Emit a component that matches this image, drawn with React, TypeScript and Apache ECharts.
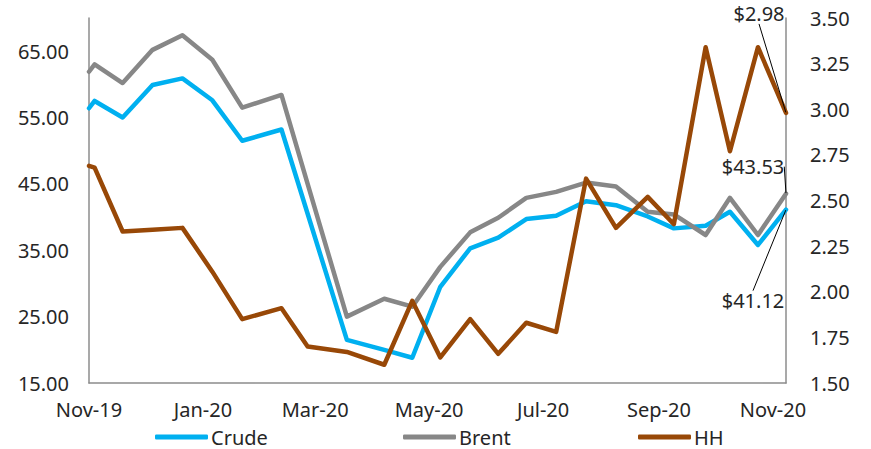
import React, { useEffect, useRef } from "react";
import * as echarts from "echarts";

const dates = [
  "2019-11-01", "2019-11-04", "2019-11-19", "2019-12-05", "2019-12-21",
  "2020-01-06", "2020-01-22", "2020-02-12", "2020-02-26", "2020-03-18",
  "2020-04-07", "2020-04-22", "2020-05-07", "2020-05-23", "2020-06-07",
  "2020-06-22", "2020-07-08", "2020-07-24", "2020-08-09", "2020-08-26",
  "2020-09-09", "2020-09-26", "2020-10-09", "2020-10-24", "2020-11-08",
];
const crude = [
  56.4, 57.5, 55.0, 59.9, 60.9, 57.6, 51.5, 53.2, 40.5, 21.5,
  20.0, 18.8, 29.5, 35.3, 36.9, 39.7, 40.2, 42.4, 41.8, 40.1,
  38.3, 38.7, 40.8, 35.8, 41.12,
];
const brent = [
  61.9, 63.0, 60.2, 65.2, 67.4, 63.7, 56.5, 58.4, 45.0, 25.0,
  27.7, 26.5, 32.5, 37.7, 39.9, 42.9, 43.8, 45.2, 44.6, 40.8,
  40.4, 37.3, 42.9, 37.3, 43.53,
];
const hh = [
  2.69, 2.68, 2.33, 2.34, 2.35, 2.11, 1.85, 1.91, 1.70, 1.67,
  1.60, 1.95, 1.64, 1.85, 1.66, 1.83, 1.78, 2.62, 2.35, 2.52,
  2.37, 3.34, 2.77, 3.34, 2.98,
];
const xTickDates = ["2019-11-01", "2020-01-01", "2020-03-01", "2020-05-01", "2020-07-01", "2020-09-01", "2020-11-01"];
const monthNames = ["Jan", "Feb", "Mar", "Apr", "May", "Jun", "Jul", "Aug", "Sep", "Oct", "Nov", "Dec"];

const ts = (s: string) => {
  const [y, m, d] = s.split("-").map(Number);
  return Date.UTC(y, m - 1, d);
};

const FONT = "Noto Sans";
const TEXT = "#262626";
const AXIS = "#8c8c8c";
const C_CRUDE = "#00b0f0";
const C_BRENT = "#878787";
const C_HH = "#984807";

function build(values: number[], fmt: (v: number) => string) {
  return values.map((v, i) => {
    const pt: any = { value: [ts(dates[i]), v] };
    if (i === values.length - 1) {
      pt.label = {
        show: true,
        position: "inside",
        formatter: fmt(v),
        fontFamily: FONT,
        fontSize: 20,
        color: TEXT,
      };
      pt.labelLine = { show: true, lineStyle: { color: "#000", width: 1 } };
    }
    return pt;
  });
}

export default function App() {
  const ref = useRef<HTMLDivElement>(null);
  useEffect(() => {
    if (!ref.current) return;
    const chart = echarts.init(ref.current, null, { renderer: "svg" });
    const lineCommon = {
      type: "line",
      symbol: "circle",
      symbolSize: 1,
      showSymbol: true,
      lineStyle: { width: 4.5, cap: "round", join: "round" },
      label: { show: false },
      emphasis: { disabled: true },
    };
    const legendCommon = {
      top: 426,
      padding: 0,
      icon: "roundRect",
      itemWidth: 53,
      itemHeight: 5,
      itemGap: 0,
      textStyle: { fontFamily: FONT, fontSize: 20, lineHeight: 22, color: TEXT, padding: [0, 0, 0, -2] },
    };
    chart.setOption({
      animation: false,
      backgroundColor: "#fff",
      grid: { left: 89, right: 85, top: 18, bottom: 66, containLabel: false, outerBoundsMode: "none" },
      legend: [
        { ...legendCommon, left: 155, data: ["Crude"] },
        { ...legendCommon, left: 403, data: ["Brent"] },
        { ...legendCommon, left: 638, data: ["HH"] },
      ],
      xAxis: {
        type: "value",
        min: ts(dates[0]),
        max: ts(dates[dates.length - 1]),
        splitLine: { show: false },
        axisTick: { show: false },
        axisLine: { show: true, lineStyle: { color: AXIS, width: 1.5 } },
        axisLabel: {
          customValues: xTickDates.map(ts),
          margin: 16,
          fontFamily: FONT,
          fontSize: 20,
          color: TEXT,
          formatter: (v: number) => {
            const d = new Date(v);
            return monthNames[d.getUTCMonth()] + "-" + String(d.getUTCFullYear()).slice(2);
          },
        },
      },
      yAxis: [
        {
          type: "value",
          min: 15,
          max: 70,
          interval: 10,
          position: "left",
          splitLine: { show: false },
          axisTick: { show: false },
          axisLine: { show: true, lineStyle: { color: AXIS, width: 1.5 } },
          axisLabel: {
            showMaxLabel: false,
            margin: 20,
            fontFamily: FONT,
            fontSize: 20,
            color: TEXT,
            formatter: (v: number) => v.toFixed(2),
          },
        },
        {
          type: "value",
          min: 1.5,
          max: 3.5,
          interval: 0.25,
          position: "right",
          splitLine: { show: false },
          axisTick: { show: false },
          axisLine: { show: true, lineStyle: { color: AXIS, width: 1.5 } },
          axisLabel: {
            margin: 24,
            fontFamily: FONT,
            fontSize: 20,
            color: TEXT,
            formatter: (v: number) => v.toFixed(2),
          },
        },
      ],
      series: [
        {
          ...lineCommon,
          name: "Crude",
          yAxisIndex: 0,
          color: C_CRUDE,
          z: 2,
          data: build(crude, (v) => "$" + v.toFixed(2)),
          labelLayout: { dx: -33, dy: 91 },
        },
        {
          ...lineCommon,
          name: "Brent",
          yAxisIndex: 0,
          color: C_BRENT,
          z: 3,
          data: build(brent, (v) => "$" + v.toFixed(2)),
          labelLayout: { dx: -33, dy: -27 },
        },
        {
          ...lineCommon,
          name: "HH",
          yAxisIndex: 1,
          color: C_HH,
          z: 4,
          data: build(hh, (v) => "$" + v.toFixed(2)),
          labelLayout: { dx: -27, dy: -99 },
        },
      ],
    });
    return () => chart.dispose();
  }, []);
  return (
    <div
      ref={ref}
      style={{ position: "fixed", left: 0, top: 0, width: 871, height: 449, background: "#fff" }}
    />
  );
}
